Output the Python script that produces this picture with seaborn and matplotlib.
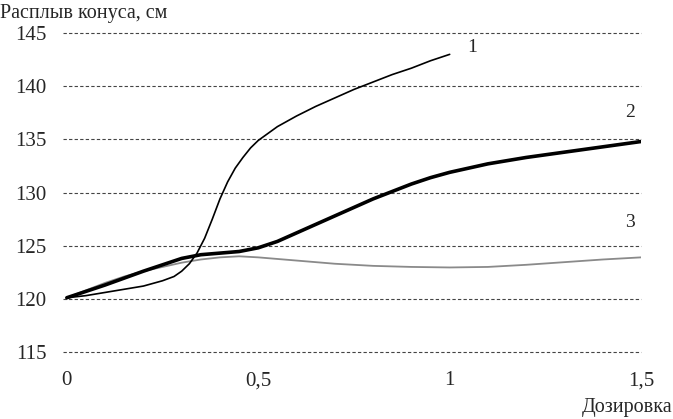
import matplotlib
matplotlib.use('Agg')
import matplotlib.pyplot as plt
import seaborn as sns
import pandas as pd

# values (dosage vs cone spread, cm)
x1 = [0, 0.05, 0.1, 0.15, 0.2, 0.25, 0.28, 0.3, 0.32, 0.34, 0.36, 0.38, 0.4, 0.42, 0.44, 0.46, 0.48, 0.5,
      0.55, 0.6, 0.65, 0.7, 0.75, 0.8, 0.85, 0.9, 0.95, 1.0]
y1 = [120.1, 120.3, 120.6, 120.9, 121.2, 121.7, 122.1, 122.6, 123.3, 124.3, 125.7, 127.5, 129.4, 131.0, 132.3, 133.3, 134.2, 134.9,
      136.2, 137.2, 138.1, 138.9, 139.7, 140.4, 141.1, 141.7, 142.4, 143.0]

x2 = [0, 0.1, 0.2, 0.25, 0.3, 0.35, 0.4, 0.45, 0.5, 0.55, 0.6, 0.65, 0.7, 0.75, 0.8, 0.85, 0.9, 0.95, 1.0,
      1.1, 1.2, 1.3, 1.4, 1.5]
y2 = [120.1, 121.3, 122.6, 123.2, 123.8, 124.15, 124.3, 124.45, 124.8, 125.4, 126.2, 127.0, 127.8, 128.6, 129.4, 130.1, 130.8, 131.4, 131.9,
      132.7, 133.3, 133.8, 134.3, 134.8]

x3 = [0, 0.05, 0.1, 0.15, 0.2, 0.25, 0.3, 0.35, 0.4, 0.45, 0.5, 0.6, 0.7, 0.8, 0.9, 1.0, 1.1, 1.2, 1.3, 1.4, 1.5]
y3 = [120.1, 120.8, 121.5, 122.1, 122.6, 123.0, 123.4, 123.7, 123.9, 124.0, 123.9, 123.6, 123.3, 123.1, 123.0, 122.95, 123.0, 123.2, 123.45, 123.7, 123.9]

curve_labels = ['1', '2', '3']
xticks = [0, 0.5, 1, 1.5]
xtick_labels = ['0', '0,5', '1', '1,5']
yticks = [115, 120, 125, 130, 135, 140, 145]

sns.set_theme(style='white')
plt.rcParams['font.family'] = ['Liberation Serif', 'DejaVu Serif']

fig = plt.figure(figsize=(6.73, 4.19), dpi=100)
ax = fig.add_axes([0.0936, 0.160, 0.859, 0.761])

df1 = pd.DataFrame({'x': x1, 'y': y1})
df2 = pd.DataFrame({'x': x2, 'y': y2})
df3 = pd.DataFrame({'x': x3, 'y': y3})

sns.lineplot(data=df3, x='x', y='y', ax=ax, color='#8a8a8a', lw=1.3)
sns.lineplot(data=df1, x='x', y='y', ax=ax, color='black', lw=1.2)
sns.lineplot(data=df2, x='x', y='y', ax=ax, color='black', lw=2.6)

for yv in yticks:
    ax.axhline(yv, color='#444444', lw=0.8, ls=(0, (3, 2)), zorder=0, clip_on=False)

ax.set_xlim(-0.01, 1.5)
ax.set_ylim(115, 145)
ax.set_xticks(xticks)
ax.set_xticklabels(xtick_labels)
ax.set_yticks(yticks)
for s in ax.spines.values():
    s.set_visible(False)
ax.tick_params(axis='y', length=0, pad=12, labelsize=15)
ax.tick_params(axis='x', length=0, pad=14, labelsize=15)
ax.set_xlabel('')
ax.set_ylabel('')

# curve numbers
ax.text(x1[-1] + 0.06, 143.6, curve_labels[0], fontsize=14, ha='center', va='center')
ax.text(1.47, 137.5, curve_labels[1], fontsize=14, ha='center', va='center')
ax.text(1.47, 127.2, curve_labels[2], fontsize=14, ha='center', va='center')

fig.text(0.0, 0.99, 'Расплыв конуса, см', fontsize=14.5, ha='left', va='top')
fig.text(0.999, 0.005, 'Дозировка', fontsize=14.5, ha='right', va='bottom')

plt.savefig('out.png', dpi=100)
